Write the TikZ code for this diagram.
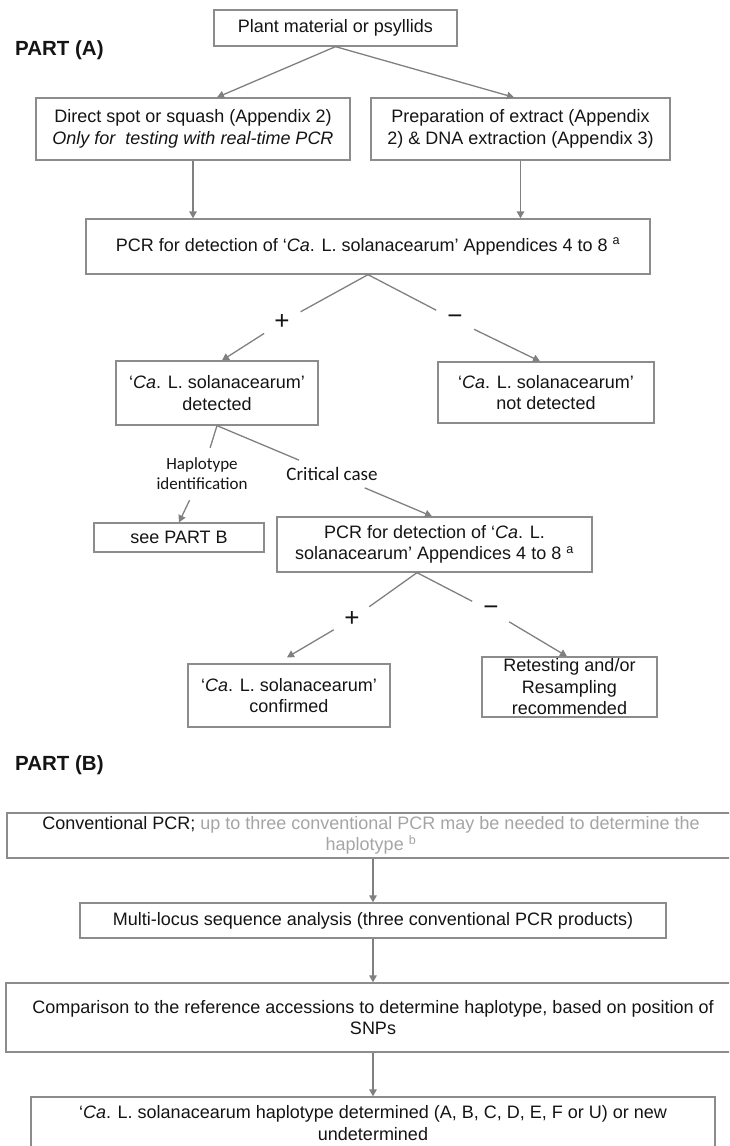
\documentclass[tikz,border=0pt]{standalone}
\usepackage{fontspec}
\setmainfont{Liberation Sans}
\newfontfamily\carl{Carlito}
\usetikzlibrary{arrows.meta}
\definecolor{lg}{RGB}{128,128,128}
\definecolor{bg}{RGB}{140,140,140}
\definecolor{tg}{RGB}{165,165,165}
\definecolor{tx}{RGB}{20,20,20}
\begin{document}
\begin{tikzpicture}[x=1pt,y=-1pt,
  box/.style={draw=bg, line width=1.3pt, align=center, inner sep=0pt,
    font=\fontsize{18pt}{21.5pt}\selectfont, text=tx},
  conn/.style={draw=lg, line width=1.3pt},
  arr/.style={conn, -{Triangle[length=7pt,width=7.5pt]}},
  sign/.style={circle, inner sep=0pt, minimum size=42pt,
    font=\fontsize{26pt}{26pt}\selectfont, text=tx},
  part/.style={font=\bfseries\fontsize{20.5pt}{24pt}\selectfont, text=tx, anchor=west, inner sep=0pt},
  hlabel/.style={font=\carl\fontsize{17pt}{20pt}\selectfont, text=tx, align=center, inner xsep=2pt, inner ysep=10pt},
  clabel/.style={font=\carl\fontsize{19pt}{22pt}\selectfont, text=tx, inner xsep=2pt, inner ysep=7pt}
]
\useasboundingbox (0,0) rectangle (729,1146);
\clip (0,0) rectangle (729,1146);

% PART A
\node[box, minimum width=243pt, minimum height=36pt] (plant) at (335.5,28) {Plant material or psyllids};
\node[part] (parta) at (15,50) {PART (A)};
\node[box, minimum width=314pt, minimum height=62pt] (direct) at (193,129)
  {Direct spot or squash (Appendix 2)\\\textit{Only for~ testing with real-time PCR}};
\node[box, minimum width=299pt, minimum height=62pt] (prep) at (520.5,129)
  {Preparation of extract (Appendix\\2) \& DNA extraction (Appendix 3)};
\node[box, minimum width=564pt, minimum height=55pt] (pcr) at (368,246.5)
  {PCR for detection of ‘\textit{Ca}. L. solanacearum’ Appendices 4 to 8 \textsuperscript{a}};
\node[sign] (p1) at (282,322) {+};
\node[sign] (m1) at (455,320) {−};
\node[box, minimum width=202pt, minimum height=64pt] (det) at (217,393)
  {‘\textit{Ca}. L. solanacearum’\\detected};
\node[box, minimum width=216pt, minimum height=61pt] (ndet) at (546,392.5)
  {‘\textit{Ca}. L. solanacearum’\\not detected};
\node[hlabel] (hap) at (202,474) {Haplotype\\identification};
\node[clabel] (crit) at (332,474) {Critical case};
\node[box, minimum width=170pt, minimum height=29pt] (seeb) at (179,537.5) {see PART B};
\node[box, minimum width=315pt, minimum height=55pt] (pcr2) at (434.5,544.5)
  {PCR for detection of ‘\textit{Ca}. L.\\solanacearum’ Appendices 4 to 8 \textsuperscript{a}};
\node[sign] (p2) at (352,619) {+};
\node[sign] (m2) at (491,611) {−};
\node[box, minimum width=202pt, minimum height=63pt] (conf) at (289,695.5)
  {‘\textit{Ca}. L. solanacearum’\\confirmed};
\node[box, minimum width=175pt, minimum height=60pt] (ret) at (569.5,687)
  {Retesting and/or\\Resampling\\recommended};

% PART B
\node[part] (partb) at (15,765) {PART (B)};
\node[box, minimum width=728pt, minimum height=45pt] (conv) at (371,835.5)
  {Conventional PCR; \textcolor{tg}{up to three conventional PCR may be needed to determine the}\\\textcolor{tg}{haplotype \textsuperscript{b}}};
\node[box, minimum width=586pt, minimum height=35pt] (multi) at (373,920.5)
  {Multi-locus sequence analysis (three conventional PCR products)};
\node[box, minimum width=734pt, minimum height=69pt] (comp) at (373,1017.5)
  {Comparison to the reference accessions to determine haplotype, based on position of\\SNPs};
\node[box, minimum width=684pt, minimum height=52pt] (last) at (373,1123)
  {‘\textit{Ca}. L. solanacearum haplotype determined (A, B, C, D, E, F or U) or new\\undetermined};

% connectors
\draw[arr] (plant.south) -- ([xshift=24pt]direct.north);
\draw[arr] (plant.south) -- ([xshift=-6.5pt]prep.north);
\draw[arr] (direct.south) -- (direct.south |- pcr.north);
\draw[arr] (prep.south) -- (prep.south |- pcr.north);
\draw[conn] (pcr.south) -- (p1);
\draw[arr] (p1) -- ([xshift=5pt]det.north);
\draw[conn] (pcr.south) -- (m1);
\draw[arr] (m1) -- ([xshift=-6pt]ndet.north);
\draw[conn] (det.south) -- (hap);
\draw[arr] (hap) -- (seeb.north);
\draw[conn] (det.south) -- (crit);
\draw[arr] (crit) -- ([xshift=-2.5pt]pcr2.north);
\draw[conn] ([xshift=-17.5pt]pcr2.south) -- (p2);
\draw[arr] (p2) -- ([xshift=-2pt,yshift=6pt]conf.north);
\draw[conn] ([xshift=-17.5pt]pcr2.south) -- (m2);
\draw[arr] (m2) -- ([xshift=-2.5pt]ret.north);
\draw[arr] (multi.north |- conv.south) -- (multi.north);
\draw[arr] (multi.south) -- (multi.south |- comp.north);
\draw[arr] (multi.south |- comp.south) -- (last.north);
\end{tikzpicture}
\end{document}
